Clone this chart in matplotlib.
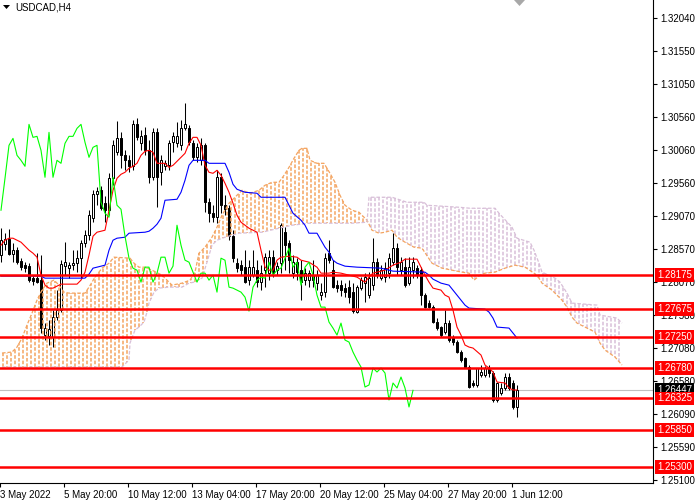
import numpy as np
import matplotlib
matplotlib.use("Agg")
import matplotlib.pyplot as plt
from matplotlib.patches import Polygon
from matplotlib.transforms import blended_transform_factory

plt.rcParams['font.family'] = ['Liberation Sans', 'DejaVu Sans']
plt.rcParams['lines.scale_dashes'] = False

# USDCAD H4 candles, 3 May 2022 .. 1 Jun 2022 16:00
opens = [1.28477, 1.28642, 1.28717, 1.28492, 1.28552, 1.28387, 1.28327, 1.28312, 1.28132, 1.28132,
         1.28102, 1.27277, 1.27262, 1.27247, 1.27547, 1.27652, 1.28312, 1.28282, 1.28327, 1.28357,
         1.28432, 1.28657, 1.28777, 1.29032, 1.29392, 1.29452, 1.29257, 1.29152, 1.29632, 1.30022,
         1.30232, 1.29977, 1.29902, 1.29812, 1.30442, 1.30157, 1.30277, 1.30052, 1.29647, 1.30322,
         1.29722, 1.29812, 1.29827, 1.30172, 1.30157, 1.30127, 1.30382, 1.30382, 1.30157, 1.29947,
         1.29902, 1.30127, 1.29272, 1.29107, 1.29047, 1.29647, 1.29227, 1.29182, 1.28762, 1.28357,
         1.28327, 1.28297, 1.28102, 1.28177, 1.28252, 1.28072, 1.28252, 1.28207, 1.28447, 1.28252,
         1.28357, 1.28822, 1.28657, 1.28207, 1.28372, 1.28252, 1.28102, 1.28102, 1.28177, 1.28057,
         1.27877, 1.27922, 1.28507, 1.28252, 1.28027, 1.28027, 1.27982, 1.27997, 1.27922, 1.27622,
         1.27982, 1.28057, 1.27877, 1.28027, 1.28372, 1.28132, 1.28147, 1.28207, 1.28372, 1.28582,
         1.28252, 1.28297, 1.28057, 1.28252, 1.28282, 1.28252, 1.27877, 1.27757, 1.27697, 1.27472,
         1.27397, 1.27322, 1.27457, 1.27232, 1.27172, 1.27022, 1.26932, 1.26797, 1.26557, 1.26527,
         1.26677, 1.26677, 1.26782, 1.26707, 1.26302, 1.26407, 1.26482, 1.26647, 1.26557, 1.26197]
closes = [1.28702, 1.28717, 1.28492, 1.28552, 1.28372, 1.28297, 1.28282, 1.28102, 1.28087, 1.28072,
          1.27382, 1.27382, 1.27367, 1.27547, 1.27652, 1.28342, 1.28372, 1.28327, 1.28357, 1.28432,
          1.28657, 1.28777, 1.29077, 1.29392, 1.29437, 1.29182, 1.29152, 1.29632, 1.30127, 1.30232,
          1.29977, 1.29902, 1.29812, 1.30442, 1.30247, 1.30262, 1.30052, 1.29647, 1.30322, 1.29647,
          1.29902, 1.29857, 1.30157, 1.30262, 1.30262, 1.30382, 1.30442, 1.30172, 1.29947, 1.30097,
          1.30127, 1.29272, 1.29107, 1.29047, 1.29647, 1.29227, 1.29167, 1.28762, 1.28432, 1.28282,
          1.28252, 1.28072, 1.28297, 1.28297, 1.28072, 1.28207, 1.28447, 1.28447, 1.28207, 1.28312,
          1.28927, 1.28627, 1.28402, 1.28372, 1.28222, 1.28072, 1.28207, 1.28207, 1.28102, 1.28177,
          1.27922, 1.28432, 1.28402, 1.27997, 1.27982, 1.27952, 1.27922, 1.27847, 1.27637, 1.27997,
          1.28102, 1.28147, 1.28132, 1.28372, 1.28177, 1.28252, 1.28282, 1.28432, 1.28582, 1.28297,
          1.28372, 1.28027, 1.28297, 1.28372, 1.28177, 1.27877, 1.27697, 1.27697, 1.27472, 1.27382,
          1.27277, 1.27457, 1.27202, 1.27172, 1.27022, 1.26902, 1.26797, 1.26497, 1.26527, 1.26782,
          1.26722, 1.26782, 1.26707, 1.26302, 1.26557, 1.26482, 1.26647, 1.26482, 1.26197, 1.26447]
highs = [1.28882, 1.28807, 1.28867, 1.28657, 1.28597, 1.28432, 1.28372, 1.28357, 1.28177, 1.28507,
         1.28477, 1.27457, 1.27502, 1.27652, 1.27952, 1.28402, 1.28672, 1.28372, 1.28552, 1.28552,
         1.28702, 1.28852, 1.29152, 1.29452, 1.29497, 1.29512, 1.29362, 1.29707, 1.30202, 1.30487,
         1.30322, 1.30052, 1.29977, 1.30502, 1.30532, 1.30352, 1.30397, 1.30202, 1.30382, 1.30382,
         1.29977, 1.29902, 1.30202, 1.30322, 1.30472, 1.30502, 1.30757, 1.30427, 1.30202, 1.30157,
         1.30232, 1.30157, 1.29332, 1.29227, 1.29752, 1.29707, 1.29377, 1.29227, 1.28852, 1.28432,
         1.28402, 1.28552, 1.28402, 1.28552, 1.28402, 1.28327, 1.28507, 1.28552, 1.28552, 1.28372,
         1.28957, 1.28897, 1.28702, 1.28477, 1.28432, 1.28402, 1.28282, 1.28252, 1.28402, 1.28252,
         1.28057, 1.28507, 1.28702, 1.28402, 1.28102, 1.28102, 1.28057, 1.28102, 1.28057, 1.28027,
         1.28147, 1.28207, 1.28222, 1.28732, 1.28432, 1.28327, 1.28372, 1.28507, 1.28807, 1.28657,
         1.28447, 1.28432, 1.28447, 1.28447, 1.28327, 1.28297, 1.27907, 1.27802, 1.27727, 1.27532,
         1.27412, 1.27652, 1.27502, 1.27277, 1.27202, 1.27052, 1.26947, 1.26827, 1.26602, 1.26782,
         1.26827, 1.26812, 1.26827, 1.26737, 1.26572, 1.26557, 1.26707, 1.26707, 1.26602, 1.26527]
lows = [1.28372, 1.28552, 1.28477, 1.28372, 1.28342, 1.28252, 1.28222, 1.28072, 1.28027, 1.28057,
        1.27307, 1.27202, 1.27127, 1.27097, 1.27502, 1.27622, 1.28177, 1.28132, 1.28252, 1.28222,
        1.28132, 1.28597, 1.28702, 1.28972, 1.29227, 1.29152, 1.28972, 1.29077, 1.29527, 1.29977,
        1.29782, 1.29752, 1.29722, 1.29752, 1.30202, 1.30052, 1.29977, 1.29557, 1.29602, 1.29197,
        1.29527, 1.29752, 1.29752, 1.30022, 1.30097, 1.30052, 1.30352, 1.30127, 1.29902, 1.29872,
        1.29827, 1.29122, 1.28972, 1.28972, 1.28957, 1.29107, 1.29077, 1.28702, 1.28372, 1.28222,
        1.28177, 1.28057, 1.28027, 1.28147, 1.27997, 1.27952, 1.27997, 1.28102, 1.28147, 1.28177,
        1.28207, 1.28252, 1.28207, 1.28132, 1.28102, 1.27802, 1.28027, 1.27997, 1.27997, 1.27952,
        1.27802, 1.27847, 1.28357, 1.27982, 1.27922, 1.27862, 1.27847, 1.27757, 1.27607, 1.27607,
        1.27952, 1.27772, 1.27832, 1.27952, 1.28132, 1.28102, 1.28072, 1.28132, 1.28327, 1.28177,
        1.28177, 1.27997, 1.28027, 1.28132, 1.28132, 1.27727, 1.27682, 1.27682, 1.27457, 1.27352,
        1.27247, 1.27292, 1.27172, 1.27127, 1.27007, 1.26872, 1.26782, 1.26482, 1.26497, 1.26497,
        1.26647, 1.26647, 1.26647, 1.26272, 1.26272, 1.26377, 1.26452, 1.26452, 1.26167, 1.26047]

# ichimoku lines: (bar, price)
tenkan = [(0, 1.28627), (1, 1.28702), (2, 1.28732), (3, 1.28732), (4, 1.28702), (5, 1.28672),
          (6, 1.28612), (7, 1.28552), (8, 1.28507), (9, 1.28447), (10, 1.28177), (11, 1.28027),
          (12, 1.27982), (13, 1.27982), (14, 1.28012), (15, 1.28042), (19, 1.28042), (20, 1.28102),
          (21, 1.28222), (22, 1.28477), (23, 1.28762), (24, 1.28822), (26, 1.28852), (27, 1.29152),
          (28, 1.29452), (29, 1.29632), (30, 1.29692), (31, 1.29722), (32, 1.29782), (33, 1.29812),
          (34, 1.29857), (35, 1.29977), (36, 1.30037), (37, 1.30052), (38, 1.30022), (39, 1.29857),
          (41, 1.29857), (42, 1.29797), (43, 1.29827), (44, 1.29887), (45, 1.29947), (46, 1.30007),
          (47, 1.30157), (48, 1.30247), (49, 1.30247), (50, 1.30127), (51, 1.29827), (52, 1.29722),
          (53, 1.29707), (54, 1.29752), (55, 1.29677), (56, 1.29557), (57, 1.29422), (58, 1.29257),
          (59, 1.29077), (60, 1.28972), (61, 1.28927), (62, 1.28882), (63, 1.28852), (64, 1.28822),
          (65, 1.28552), (66, 1.28297), (67, 1.28252), (68, 1.28252), (69, 1.28402), (70, 1.28447),
          (72, 1.28462), (74, 1.28447), (75, 1.28402), (77, 1.28372), (79, 1.28297), (80, 1.28207),
          (82, 1.28207), (83, 1.28222), (85, 1.28207), (87, 1.28177), (89, 1.28147), (91, 1.28072),
          (92, 1.28147), (93, 1.28207), (96, 1.28252), (98, 1.28327), (100, 1.28372), (101, 1.28417),
          (104, 1.28417), (105, 1.28297), (106, 1.28177), (107, 1.28072), (108, 1.27982), (110, 1.27952),
          (111, 1.27877), (112, 1.27847), (113, 1.27652), (114, 1.27397), (115, 1.27277), (116, 1.27127),
          (117, 1.27097), (118, 1.27082), (120, 1.26977), (121, 1.26827), (122, 1.26782), (123, 1.26722),
          (124, 1.26572), (126, 1.26557), (127, 1.26482), (128, 1.26452), (129, 1.26452)]
kijun = [(0, 1.28162), (10, 1.28162), (11, 1.28132), (21, 1.28132), (22, 1.28192), (23, 1.28282),
         (24, 1.28297), (26, 1.28327), (27, 1.28552), (28, 1.28702), (29, 1.28732), (31, 1.28747),
         (32, 1.28807), (36, 1.28822), (37, 1.28837), (38, 1.28882), (39, 1.28942), (40, 1.29032),
         (41, 1.29302), (44, 1.29317), (45, 1.29422), (46, 1.29602), (47, 1.29827), (48, 1.29902),
         (51, 1.29902), (52, 1.29857), (56, 1.29857), (57, 1.29722), (58, 1.29542), (59, 1.29467),
         (61, 1.29422), (64, 1.29407), (65, 1.29347), (71, 1.29347), (72, 1.29227), (73, 1.29107),
         (75, 1.29002), (76, 1.28927), (77, 1.28807), (79, 1.28807), (80, 1.28702), (81, 1.28597),
         (82, 1.28522), (83, 1.28402), (84, 1.28357), (86, 1.28312), (89, 1.28297), (95, 1.28282),
         (98, 1.28237), (106, 1.28222), (107, 1.28177), (108, 1.28117), (109, 1.28087), (110, 1.28057),
         (112, 1.28027), (113, 1.27952), (114, 1.27877), (115, 1.27802), (116, 1.27727), (117, 1.27682),
         (121, 1.27667), (122, 1.27622), (123, 1.27532), (124, 1.27397), (127, 1.27382), (128, 1.27307),
         (129, 1.27232)]
span_a = [(-0.25, 1.27007), (2.25, 1.27022), (3.5, 1.27097), (4.75, 1.27232), (6, 1.27427),
          (7.25, 1.27607), (8.5, 1.27802), (9.75, 1.27952), (11, 1.28057), (12.75, 1.28102),
          (14, 1.28027), (15.25, 1.27922), (16.5, 1.27907), (20.5, 1.27907), (21.5, 1.27997),
          (23, 1.28147), (24.75, 1.28282), (26.5, 1.28357), (27.75, 1.28447), (31.75, 1.28432),
          (32.75, 1.28357), (34, 1.28297), (35.5, 1.28297), (37.25, 1.28252), (39.75, 1.28177),
          (42.25, 1.28027), (44.75, 1.28057), (46.75, 1.28102), (48, 1.28222), (49, 1.28507),
          (50.5, 1.28597), (52.25, 1.28747), (53.5, 1.28897), (54.75, 1.29077), (56.5, 1.29257),
          (58, 1.29347), (59.75, 1.29452), (61.75, 1.29407), (64, 1.29452), (65.5, 1.29527),
          (67.25, 1.29572), (69, 1.29572), (70.25, 1.29677), (71.5, 1.29797), (72.75, 1.29932),
          (74, 1.30052), (74.75, 1.30082), (76, 1.30082), (76.75, 1.29902), (78.5, 1.29857),
          (80.25, 1.29857), (81.75, 1.29707), (83, 1.29572), (84.25, 1.29377), (85.5, 1.29227),
          (87.25, 1.29152), (89, 1.29122), (91, 1.29002), (92.25, 1.28852), (94, 1.28807),
          (95.5, 1.28822), (97.25, 1.28852), (98.5, 1.28747), (100.5, 1.28672), (102.75, 1.28597),
          (104.75, 1.28582), (107.25, 1.28357), (109.75, 1.28282), (112.25, 1.28252), (114.75, 1.28222),
          (116.5, 1.28207), (117.75, 1.28102), (119.25, 1.28177), (120.5, 1.28207), (123, 1.28222),
          (125.5, 1.28282), (128, 1.28327), (130.5, 1.28297), (132.75, 1.28207), (134, 1.28132),
          (134.75, 1.28057), (137.25, 1.27952), (139.75, 1.27802), (141, 1.27697), (142.25, 1.27547),
          (143.5, 1.27457), (145.5, 1.27397), (148, 1.27322), (149.25, 1.27157), (150.5, 1.27052),
          (153, 1.26947), (154.75, 1.26827)]
span_b = [(-0.25, 1.26797), (29.75, 1.26797), (31.5, 1.26902), (31.75, 1.27157), (33, 1.27352),
          (34, 1.27397), (35.25, 1.27472), (36, 1.27622), (36.5, 1.27757), (37.75, 1.27922),
          (39, 1.27982), (41.5, 1.27997), (44.75, 1.27997), (46.5, 1.28057), (47.75, 1.28072),
          (49.75, 1.28132), (51, 1.28372), (52.25, 1.28627), (53.5, 1.28702), (55.5, 1.28747),
          (59, 1.28807), (64.75, 1.28822), (69, 1.28882), (72.25, 1.28927), (76.5, 1.28957),
          (87.25, 1.28957), (91, 1.28972), (91.5, 1.29347), (97.25, 1.29347), (101, 1.29272),
          (105.25, 1.29272), (106, 1.29227), (114, 1.29197), (116.75, 1.29182), (123, 1.29182),
          (124, 1.29107), (127.25, 1.28897), (128.5, 1.28732), (131.75, 1.28672), (132.75, 1.28552),
          (134, 1.28357), (134.75, 1.28222), (138, 1.28132), (139.25, 1.28072), (141, 1.27907),
          (142.25, 1.27757), (148.5, 1.27727), (149.25, 1.27577), (153.5, 1.27532), (154.75, 1.27457)]

levels = [1.28175, 1.27675, 1.27250, 1.26780, 1.26325, 1.25850, 1.25300]
last_price = 1.26447
price_ticks = [1.32040, 1.31550, 1.31050, 1.30560, 1.30060, 1.29560, 1.29070, 1.28570,
               1.28070, 1.27580, 1.27080, 1.26580, 1.26090, 1.25590, 1.25100]
date_labels = ['3 May 2022', '5 May 20:00', '10 May 12:00', '13 May 04:00', '17 May 20:00',
               '20 May 12:00', '25 May 04:00', '27 May 20:00', '1 Jun 12:00']
chikou_shift = 26

fig = plt.figure(figsize=(7, 5), dpi=100)
ax = fig.add_axes([0, 17 / 500, 653 / 700, 483 / 500])
ax.set_xlim(-0.25, 163)
ax.set_ylim(1.25055, 1.32310)

o = np.array(opens)
c = np.array(closes)
h = np.array(highs)
l = np.array(lows)
bars = np.arange(len(o))

# candles
ax.vlines(bars, l, h, color='black', linewidth=0.75, zorder=2)
up = c >= o
ax.bar(bars, np.abs(c - o), bottom=np.minimum(o, c), width=0.55,
       color=np.where(up, 'white', 'black'), edgecolor='black', linewidth=0.72, zorder=2.5)

# kumo, drawn as dotted vertical strokes like the terminal does
up_col = '#F4A460'
dn_col = '#D8BFD8'
ax_a = [p[0] for p in span_a]
ax_b = [p[0] for p in span_b]
for x in range(0, 155):
    va = np.interp(x, ax_a, [p[1] for p in span_a])
    vb = np.interp(x, ax_b, [p[1] for p in span_b])
    col = up_col if va > vb else dn_col
    ax.plot([x + 0.5, x + 0.5], [min(va, vb), max(va, vb)], color=col, lw=1.1,
            ls=((x % 2) * 1.9, (2.6, 1.3)), solid_capstyle='butt', zorder=3)
ax.plot([p + 0.5 for p in ax_a], [p[1] for p in span_a], color=up_col, lw=0.9,
        ls=(0, (2.6, 1.3)), zorder=3.5)
ax.plot([p + 0.5 for p in ax_b], [p[1] for p in span_b], color=dn_col, lw=0.9,
        ls=(0, (2.6, 1.3)), zorder=3.5)

# tenkan / kijun / chikou
ax.plot([p[0] for p in tenkan], [p[1] for p in tenkan], color='#FF0000', lw=0.8, zorder=4)
ax.plot([p[0] for p in kijun], [p[1] for p in kijun], color='#0000FF', lw=0.8, zorder=4)
ax.plot(bars[:-chikou_shift], c[chikou_shift:], color='#00FF00', lw=0.8, zorder=4)

# bid line and levels
ax.axhline(last_price, color='#C0C0C0', lw=0.8, zorder=1)
for lv in levels:
    ax.axhline(lv, color='#FF0000', lw=1.8, zorder=6)

for side in ('top', 'left'):
    ax.spines[side].set_visible(False)
for side in ('right', 'bottom'):
    ax.spines[side].set_linewidth(0.8)

ax.yaxis.tick_right()
ax.set_yticks(price_ticks)
ax.set_yticklabels(['%.5f' % v for v in price_ticks])
ax.tick_params(axis='y', direction='out', length=3, width=0.8, pad=2, labelsize=7)
ax.set_xticks([16 * k - 0.25 for k in range(len(date_labels))])
ax.set_xticklabels(date_labels, ha='left')
ax.tick_params(axis='x', direction='out', length=3, width=0.8, pad=2, labelsize=7)

trans = blended_transform_factory(ax.transAxes, ax.transData)
xl = 657 / 653
ax.text(xl, last_price, '%.5f' % last_price, transform=trans, color='white', fontsize=7,
        va='center', ha='left', clip_on=False, zorder=9,
        bbox=dict(boxstyle='square,pad=0.2', fc='black', ec='none'))
for lv in levels:
    ax.text(xl, lv, '%.5f' % lv, transform=trans, color='white', fontsize=7,
            va='center', ha='left', clip_on=False, zorder=10,
            bbox=dict(boxstyle='square,pad=0.2', fc='#FF0000', ec='none'))

# title and markers
fig.add_artist(Polygon([[3 / 700, 1 - 5 / 500], [10 / 700, 1 - 5 / 500], [6.5 / 700, 1 - 9 / 500]],
                       closed=True, fc='black', ec='none', transform=fig.transFigure))
fig.text(15 / 700, 1 - 7 / 500, 'USDCAD,H4', fontsize=7, va='center', ha='left', color='#000000')
fig.add_artist(Polygon([[514 / 700, 1.0], [525 / 700, 1.0], [519.5 / 700, 1 - 6 / 500]],
                       closed=True, fc='#A8A8A8', ec='none', transform=fig.transFigure))

fig.savefig('out.png', dpi=100)
